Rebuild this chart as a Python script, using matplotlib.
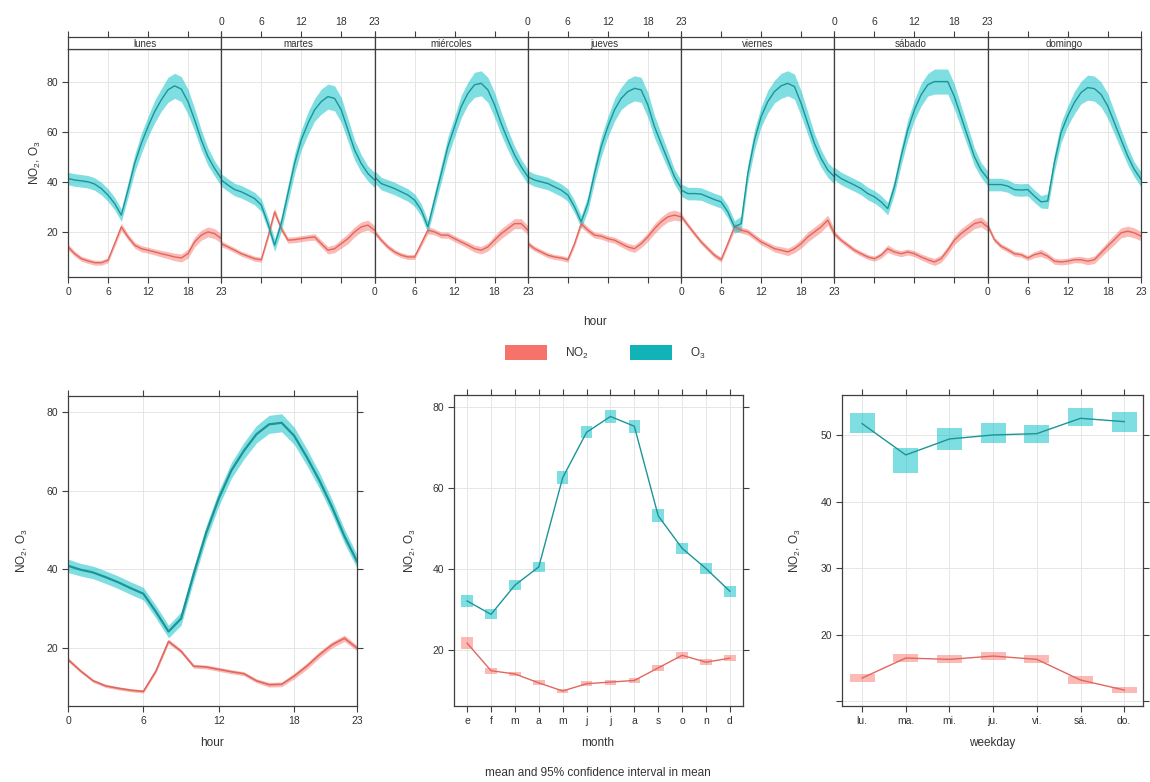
import matplotlib
matplotlib.use("Agg")
import matplotlib.pyplot as plt
from matplotlib.patches import Rectangle

plt.rcParams['font.family'] = ['Liberation Sans', 'DejaVu Sans']
plt.rcParams['mathtext.default'] = 'regular'

W, H = 1150, 782

NO2_FILL = '#F8766D'
O3_FILL = '#00BFC4'
NO2_LINE = '#E0675E'
O3_LINE = '#1B9597'
BOX = '#3F3F3F'
GRID = '#E6E6E6'
TXT = '#333333'

# ---- data ----
days = ['lunes', 'martes', 'miércoles', 'jueves', 'viernes', 'sábado', 'domingo']
hours = list(range(24))

o3_lunes = [41.3, 40.7, 40.4, 40.0, 39.1, 37.3, 34.7, 31.3, 26.7, 36.7, 47.3, 55.3,
            62.0, 68.0, 72.7, 76.7, 78.3, 77.0, 72.0, 64.7, 56.7, 50.0, 45.3, 41.3]
o3_martes = [40.7, 38.7, 36.9, 36.0, 34.7, 33.3, 30.7, 23.3, 14.7, 23.3, 35.3, 47.3,
             56.7, 63.3, 68.7, 72.0, 74.0, 73.3, 68.7, 60.7, 52.7, 47.3, 43.3, 40.7]
o3_miercoles = [42.0, 39.3, 38.3, 37.3, 36.0, 34.7, 32.7, 28.7, 22.0, 32.7, 43.3, 54.0,
                62.0, 70.0, 75.3, 78.7, 79.3, 76.7, 70.7, 63.3, 56.7, 50.7, 46.0, 42.0]
o3_jueves = [42.0, 40.7, 40.0, 39.3, 38.0, 36.7, 34.7, 30.0, 24.0, 31.3, 43.3, 54.0,
             62.0, 68.7, 73.3, 76.0, 77.3, 76.7, 70.7, 62.0, 55.3, 48.7, 42.0, 37.5]
o3_viernes = [36.7, 35.3, 35.3, 35.1, 34.0, 32.9, 32.0, 28.0, 22.0, 23.3, 43.3, 56.7,
              66.0, 72.0, 76.0, 78.3, 79.3, 78.0, 71.3, 63.3, 55.3, 49.3, 44.7, 42.0]
o3_sabado = [43.3, 41.3, 40.0, 38.7, 37.3, 35.3, 34.0, 32.0, 29.3, 38.0, 50.0, 60.7,
             68.7, 74.7, 78.7, 80.0, 80.0, 80.0, 74.0, 66.0, 58.0, 50.0, 44.7, 41.3]
o3_domingo = [38.9, 38.9, 38.9, 38.3, 36.9, 36.7, 36.9, 34.3, 32.0, 32.3, 47.6, 59.6,
              66.3, 71.6, 75.6, 77.6, 77.2, 74.9, 70.3, 63.6, 56.9, 50.3, 44.9, 41.0]

no2_lunes = [14.0, 11.3, 9.3, 8.4, 7.7, 7.7, 8.7, 15.3, 22.0, 18.0, 14.7, 13.3,
             12.7, 12.0, 11.3, 10.7, 10.0, 9.6, 11.3, 16.0, 18.7, 20.0, 19.3, 17.3]
no2_martes = [15.3, 14.0, 12.7, 11.3, 10.3, 9.3, 8.9, 18.0, 28.0, 21.3, 16.7, 16.9,
              17.3, 17.7, 18.0, 15.3, 12.7, 13.3, 15.3, 17.3, 20.0, 22.0, 22.7, 20.7]
no2_miercoles = [20.0, 16.7, 14.0, 12.0, 10.7, 10.0, 10.0, 15.3, 20.7, 20.0, 18.7, 18.7,
                 17.3, 16.0, 14.7, 13.3, 12.7, 14.0, 16.7, 19.3, 21.3, 23.3, 23.3, 20.7]
no2_jueves = [15.3, 13.3, 12.0, 10.7, 10.0, 9.6, 8.9, 15.3, 23.3, 20.7, 18.7, 18.3,
              17.3, 16.7, 15.3, 14.0, 13.3, 15.3, 18.0, 21.3, 24.0, 26.0, 26.7, 26.0]
no2_viernes = [26.3, 22.7, 19.3, 16.0, 13.3, 10.7, 8.9, 15.3, 22.0, 20.7, 20.0, 18.0,
               16.0, 14.7, 13.3, 12.7, 12.0, 13.3, 15.3, 18.0, 20.0, 22.0, 24.7, 19.3]
no2_sabado = [19.3, 16.7, 14.7, 12.7, 11.3, 10.0, 9.3, 10.7, 13.3, 12.0, 11.3, 12.0,
              11.3, 10.0, 8.9, 8.0, 9.3, 12.7, 16.7, 19.3, 21.3, 23.3, 24.0, 22.0]
no2_domingo = [22.5, 16.9, 14.3, 12.9, 11.3, 10.9, 9.6, 10.9, 11.6, 10.3, 8.3, 8.0,
               8.3, 8.9, 8.9, 8.3, 8.9, 11.6, 14.3, 16.9, 19.6, 20.3, 19.6, 18.3]

o3_by_day = [o3_lunes, o3_martes, o3_miercoles, o3_jueves, o3_viernes, o3_sabado, o3_domingo]
no2_by_day = [no2_lunes, no2_martes, no2_miercoles, no2_jueves, no2_viernes, no2_sabado, no2_domingo]

# half-width of 95% CI by hour, day.hour panel
o3_dh_ci = [2.5, 2.5, 2.5, 2.5, 2.5, 2.5, 2.5, 2.5, 2.5, 3.0, 3.5, 4.0,
            4.0, 4.5, 4.5, 5.0, 5.0, 5.0, 5.0, 4.5, 4.0, 3.5, 3.0, 3.0]
no2_dh_ci = [1.2, 1.0, 1.0, 1.0, 1.0, 1.0, 1.0, 1.2, 1.5, 1.2, 1.2, 1.2,
             1.2, 1.2, 1.3, 1.4, 1.5, 1.6, 1.8, 2.0, 2.0, 2.0, 2.0, 1.8]

o3_hour = [40.9, 39.9, 39.2, 38.0, 36.7, 35.2, 33.8, 29.2, 24.2, 27.5, 38.8, 49.3,
           58.0, 65.1, 70.1, 74.3, 76.8, 77.2, 73.9, 68.5, 62.6, 55.9, 48.4, 42.0]
o3_hour_ci = [1.7, 1.6, 1.6, 1.6, 1.6, 1.6, 1.6, 1.6, 1.6, 1.7, 1.7, 1.8,
              1.9, 2.0, 2.1, 2.2, 2.3, 2.3, 2.2, 2.1, 2.0, 1.9, 1.8, 1.7]
no2_hour = [17.1, 14.2, 11.7, 10.4, 9.8, 9.3, 9.0, 14.2, 21.7, 19.2, 15.4, 15.2,
            14.6, 14.0, 13.5, 11.7, 10.7, 10.8, 12.9, 15.4, 18.3, 20.8, 22.5, 20.0]
no2_hour_ci = [0.5, 0.4, 0.4, 0.4, 0.4, 0.4, 0.4, 0.5, 0.6, 0.5, 0.5, 0.5,
               0.5, 0.5, 0.5, 0.5, 0.6, 0.6, 0.7, 0.8, 0.8, 0.8, 0.8, 0.7]

months = ['e', 'f', 'm', 'a', 'm', 'j', 'j', 'a', 's', 'o', 'n', 'd']
o3_month = [32.2, 28.9, 36.1, 40.6, 62.6, 73.8, 77.7, 75.3, 53.2, 45.2, 40.2, 34.6]
o3_month_ci = [1.4, 1.2, 1.3, 1.3, 1.6, 1.5, 1.5, 1.6, 1.6, 1.4, 1.4, 1.3]
no2_month = [21.8, 15.0, 14.2, 12.0, 10.0, 11.8, 12.2, 12.6, 15.7, 18.8, 17.1, 18.1]
no2_month_ci = [1.4, 0.7, 0.6, 0.6, 0.6, 0.6, 0.6, 0.6, 0.7, 0.8, 0.7, 0.7]

weekdays = ['lu.', 'ma.', 'mi.', 'ju.', 'vi.', 'sá.', 'do.']
o3_week = [51.7, 47.0, 49.4, 50.0, 50.2, 52.5, 52.0]
o3_week_lo = [50.3, 44.3, 47.8, 48.8, 48.8, 51.3, 50.5]
o3_week_hi = [53.3, 48.0, 51.0, 51.8, 51.5, 54.0, 53.5]
no2_week = [13.5, 16.5, 16.3, 16.8, 16.3, 13.2, 11.7]
no2_week_ci = [0.6, 0.6, 0.6, 0.6, 0.6, 0.6, 0.5]


def px_axes(fig, x0, y0, x1, y1):
    return fig.add_axes([x0 / W, 1 - y1 / H, (x1 - x0) / W, (y1 - y0) / H])


def lattice_style(ax):
    for s in ax.spines.values():
        s.set_color(BOX)
        s.set_linewidth(0.9)
    ax.tick_params(direction='out', length=4, width=0.8, color=BOX,
                   labelsize=7.5, labelcolor=TXT, pad=3)
    ax.set_facecolor('white')


def band(ax, x, y, ci, fill, line, lw=1.0):
    lo = [v - c for v, c in zip(y, ci)]
    hi = [v + c for v, c in zip(y, ci)]
    ax.fill_between(x, lo, hi, color=fill, alpha=0.5, lw=0)
    ax.plot(x, y, color=line, lw=lw)


fig = plt.figure(figsize=(W / 100, H / 100), dpi=100)

# ---- top: day.hour ----
pw = (1141 - 68) / 7
for i, day in enumerate(days):
    x0 = 68 + i * pw
    ax = px_axes(fig, x0, 49, x0 + pw, 277)
    lattice_style(ax)
    ax.set_xlim(0, 23)
    ax.set_ylim(2, 93)
    ax.set_xticks([0, 6, 12, 18, 23])
    ax.set_yticks([20, 40, 60, 80])
    ax.grid(True, color=GRID, lw=0.7)
    ax.set_axisbelow(True)
    band(ax, hours, no2_by_day[i], no2_dh_ci, NO2_FILL, NO2_LINE)
    band(ax, hours, o3_by_day[i], o3_dh_ci, O3_FILL, O3_LINE)
    if i % 2 == 1:
        ax.tick_params(axis='x', labelbottom=False)
    if i == 0:
        ax.tick_params(axis='y', left=True, labelleft=True)
    else:
        ax.tick_params(axis='y', left=False, labelleft=False)
    if i == 6:
        ax.tick_params(axis='y', right=True)

    strip = px_axes(fig, x0, 37, x0 + pw, 49)
    lattice_style(strip)
    strip.set_xlim(0, 23)
    strip.set_ylim(0, 1)
    strip.set_yticks([])
    strip.xaxis.tick_top()
    strip.set_xticks([0, 6, 12, 18, 23])
    strip.tick_params(axis='x', bottom=False, labelbottom=False,
                      labeltop=(i % 2 == 1))
    strip.text(11.5, 0.45, day, ha='center', va='center', fontsize=7, color=TXT)

fig.text(35 / W, 1 - 163 / H, r'NO$_2$, O$_3$', rotation=90, ha='center',
         va='center', fontsize=8.5, color=TXT)
fig.text(595 / W, 1 - 322 / H, 'hour', ha='center', va='center', fontsize=8.5, color=TXT)

# legend
for x0, col, lab in [(505, '#F5736A', r'NO$_2$'), (630, '#12B3B6', r'O$_3$')]:
    fig.add_artist(Rectangle((x0 / W, 1 - 360 / H), 42 / W, 15 / H,
                             transform=fig.transFigure, color=col, lw=0))
    fig.text((x0 + 60) / W, 1 - 353 / H, lab, ha='left', va='center',
             fontsize=8.5, color=TXT)

# ---- bottom left: hour ----
ax = px_axes(fig, 68, 396, 357, 706)
lattice_style(ax)
ax.set_xlim(0, 23)
ax.set_ylim(5.3, 84)
ax.set_xticks([0, 6, 12, 18, 23])
ax.set_yticks([20, 40, 60, 80])
ax.grid(True, color=GRID, lw=0.7)
ax.set_axisbelow(True)
ax.tick_params(top=True, right=True)
band(ax, hours, no2_hour, no2_hour_ci, NO2_FILL, NO2_LINE, lw=1.2)
band(ax, hours, o3_hour, o3_hour_ci, O3_FILL, O3_LINE, lw=1.6)
fig.text(22 / W, 1 - 551 / H, r'NO$_2$, O$_3$', rotation=90, ha='center',
         va='center', fontsize=8.5, color=TXT)
fig.text(212 / W, 1 - 743 / H, 'hour', ha='center', va='center', fontsize=8.5, color=TXT)

# ---- bottom middle: month ----
ax = px_axes(fig, 454, 395, 743, 706)
lattice_style(ax)
ax.set_xlim(-0.55, 11.55)
ax.set_ylim(6.3, 83)
ax.set_xticks(range(12))
ax.set_xticklabels(months)
ax.set_yticks([20, 40, 60, 80])
ax.grid(True, color=GRID, lw=0.7)
ax.set_axisbelow(True)
ax.tick_params(top=True, right=True)
mw = 0.48
for vals, ci, fill, line in [(no2_month, no2_month_ci, NO2_FILL, NO2_LINE),
                             (o3_month, o3_month_ci, O3_FILL, O3_LINE)]:
    for j, (v, c) in enumerate(zip(vals, ci)):
        ax.add_patch(Rectangle((j - mw / 2, v - c), mw, 2 * c, color=fill,
                               alpha=0.5, lw=0))
    ax.plot(range(12), vals, color=line, lw=1.0)
fig.text(410 / W, 1 - 551 / H, r'NO$_2$, O$_3$', rotation=90, ha='center',
         va='center', fontsize=8.5, color=TXT)
fig.text(598 / W, 1 - 743 / H, 'month', ha='center', va='center', fontsize=8.5, color=TXT)
fig.text(598 / W, 1 - 773 / H, 'mean and 95% confidence interval in mean',
         ha='center', va='center', fontsize=8.5, color=TXT)

# ---- bottom right: weekday ----
ax = px_axes(fig, 842, 395, 1143, 706)
lattice_style(ax)
ax.set_xlim(-0.46, 6.43)
ax.set_ylim(9.3, 56)
ax.set_xticks(range(7))
ax.set_xticklabels(weekdays)
ax.set_yticks([10, 20, 30, 40, 50])
ax.set_yticklabels(['', '20', '30', '40', '50'])
ax.grid(True, color=GRID, lw=0.7)
ax.set_axisbelow(True)
ax.tick_params(top=True, right=True)
ww = 0.57
for j in range(7):
    ax.add_patch(Rectangle((j - ww / 2, o3_week_lo[j]), ww,
                           o3_week_hi[j] - o3_week_lo[j], color=O3_FILL,
                           alpha=0.5, lw=0))
    ax.add_patch(Rectangle((j - ww / 2, no2_week[j] - no2_week_ci[j]), ww,
                           2 * no2_week_ci[j], color=NO2_FILL, alpha=0.5, lw=0))
ax.plot(range(7), o3_week, color=O3_LINE, lw=1.0)
ax.plot(range(7), no2_week, color=NO2_LINE, lw=1.0)
fig.text(795 / W, 1 - 551 / H, r'NO$_2$, O$_3$', rotation=90, ha='center',
         va='center', fontsize=8.5, color=TXT)
fig.text(992 / W, 1 - 743 / H, 'weekday', ha='center', va='center', fontsize=8.5, color=TXT)

fig.savefig('out.png', dpi=100)
